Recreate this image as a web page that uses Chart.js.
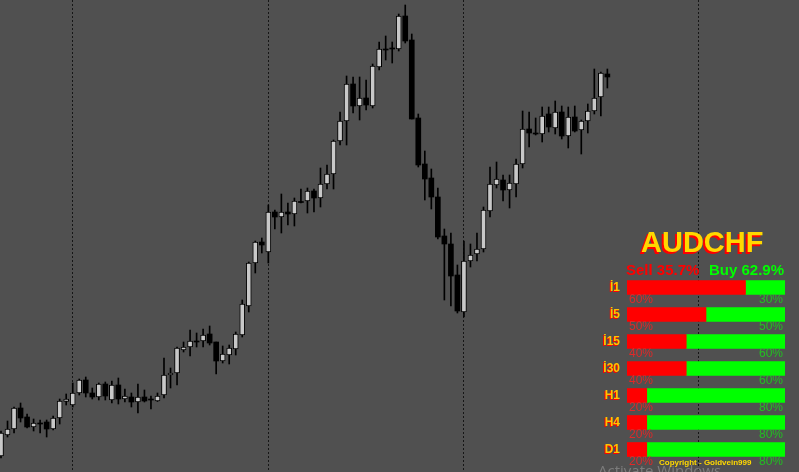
<!DOCTYPE html>
<html>
<head>
<meta charset="utf-8">
<script src="https://cdn.jsdelivr.net/npm/chart.js@4.4.1/dist/chart.umd.min.js"></script>
<style>
  html, body { margin:0; padding:0; background:#505050; }
  #wrap { position:relative; width:799px; height:472px; overflow:hidden; background:#505050; }
  #main { position:absolute; left:0; top:0; }
  #ind { position:absolute; left:627px; top:274px; z-index:2; }
  .t { position:absolute; white-space:nowrap; font-family:"Liberation Sans", Arial, sans-serif; z-index:3; }
  .title { font-size:29px; line-height:29px; font-weight:bold; color:#ffd800; text-shadow:-2px 2px 0 #ff0000; }
  .sell { font-size:15px; line-height:15px; font-weight:bold; color:#ff0000; }
  .buy { font-size:15px; line-height:15px; font-weight:bold; color:#00ff00; }
  .lab { font-size:12px; line-height:12px; font-weight:bold; color:#ffc400; text-shadow:-1px 1px 0 #ff0000; text-align:right; }
  .pl { font-size:12px; line-height:12px; color:#e02828; }
  .pr { font-size:12px; line-height:12px; color:#22c022; text-align:right; }
  .copy { font-size:8px; line-height:8px; font-weight:bold; color:#ffd800; }
  .wm { position:absolute; left:598px; top:460px; font-family:"Open Sans", sans-serif; font-size:15px; color:#7c7c7c; z-index:1; white-space:nowrap; }
</style>
</head>
<body>
<div id="wrap">
  <canvas id="main" width="799" height="472"></canvas>
  <canvas id="ind" width="158" height="189"></canvas>
  <div class="wm">Activate Windows</div>
</div>
<script>
// ---- candle data (price units) ----
const opens = [16,37,43,64,55,45,49,50,43,54,
  70.5,67,79,92,79,75,88,72,87,73,
  75,70,75,73,71,77,97,99,122,125,
  131,131,138,130,111,117,123,137,166,209,
  230,220,260,255,260,258,270.5,271,281,274,
  288,298,331,351,388,366,374,366,405,423,
  424,423,456,432,354,308,294,275,236,228,
  197,160,211,218,223,261,287,292,282,288,
  308,343,339,338,358,344,360,336,355,342,
  351,361,375,398];
const highs = [41,51,65,69,58,53,52,52,56,73,
  78,89,93,95,84,89,90,91,94,83,
  79,88,82,76,79,114,104,125,130,142,
  139,143,146,130,126,127,140,172,210,231,
  234,267,262,278,269,274,283,284,283,304,
  307,332,360,396,395,395,392,408,430,436,
  430,458,467,438,358,321,303,284,243,239,
  207,231,228,239,265,305,310,297,297,313,
  361,360,354,365,365,371,366,365,366,352,
  368,403,400,403];
const lows = [14,35,39,50,44,41,39,35,42,48,
  67,65,77,75,73,72,72,69,68,70,
  65,59,70,63,70.5,74,84,87,120,116,
  125,125,127,98,109,108,117,135,160,199,
  219,209,243,239,247,246,269,259,260,265,
  283,283,327,327,359,352,362,364,402,412,
  409,421,429,353,305,272,263,233,172,166,
  159,155,205,211,220,255,284,271,264,275,
  304,325,337,330,340,338,333,324,340,318,
  339,358,356,384];
const closes = [39,43,64,54,45,49,48,43,54,71,
  73,79,92,79,75,88,76,87,73,76,
  70,75,71,72,76,97,99,124,125,131,
  130,137,129,111,118,124,138,168,209,230,
  227,260,255,260,258,271,269.5,281,274,288,
  298,331,351,388,366,374,367,406,423,422,
  423,456,431,353,307,293,275,235,228,196,
  161,211,217,223,262,288,293,282,289,308,
  343,339,338,356,345,360,336,355,341,351,
  361,374,399,395];
const separators = [11, 41, 71, 107];

// ---- indicator panel data ----
const symbol = "AUDCHF";
const sellTotal = "35.7%";
const buyTotal = "62.9%";
const timeframes = ["İ1","İ5","İ15","İ30","H1","H4","D1"];
const sellPct = [60,50,40,40,20,20,20];
const buyPct = [30,50,60,60,80,80,80];
const sellBar = [75,50,37.5,37.5,12.5,12.5,12.5];
const buyBar = [25,50,62.5,62.5,87.5,87.5,87.5];

const BULL = '#c8c8c8', BEAR = '#000000';
const bodyData = opens.map((o, i) => ({ x: i, y: [o, closes[i]] }));
const wickData = lows.map((l, i) => ({ x: i, y: [l, highs[i]] }));
const isBull = i => closes[i] > opens[i];

new Chart(document.getElementById('main'), {
  type: 'bar',
  data: {
    datasets: [
      {
        data: bodyData,
        grouped: false,
        barThickness: 5,
        backgroundColor: ctx => isBull(ctx.dataIndex) ? BULL : BEAR,
        borderColor: '#000000',
        borderWidth: ctx => isBull(ctx.dataIndex) ? 1 : 0,
        borderSkipped: false
      },
      {
        data: wickData,
        grouped: false,
        barThickness: 1,
        backgroundColor: '#000000',
        borderWidth: 0
      }
    ]
  },
  options: {
    responsive: false,
    animation: false,
    layout: { padding: 0 },
    plugins: { legend: { display: false }, tooltip: { enabled: false } },
    scales: {
      x: {
        type: 'linear',
        min: -0.153,
        max: 122.39,
        offset: false,
        display: true,
        ticks: { display: false },
        grid: { color: '#161616', lineWidth: 1, drawTicks: false, offset: false },
        border: { display: false, dash: [2, 2] },
        afterBuildTicks: s => { s.ticks = separators.map(v => ({ value: v })); }
      },
      y: { type: 'linear', min: 0, max: 472, display: false }
    }
  }
});

new Chart(document.getElementById('ind'), {
  type: 'bar',
  data: {
    labels: timeframes,
    datasets: [
      { data: sellBar, backgroundColor: '#ff0000', barThickness: 14, borderWidth: 0 },
      { data: buyBar, backgroundColor: '#00ff00', barThickness: 14, borderWidth: 0 }
    ]
  },
  options: {
    indexAxis: 'y',
    responsive: false,
    animation: false,
    layout: { padding: 0 },
    plugins: { legend: { display: false }, tooltip: { enabled: false } },
    scales: {
      x: { stacked: true, min: 0, max: 100, display: false },
      y: { stacked: true, display: false }
    }
  }
});

// ---- panel texts ----
const wrap = document.getElementById('wrap');
function addText(cls, txt, left, top, width) {
  const d = document.createElement('div');
  d.className = 't ' + cls;
  d.textContent = txt;
  d.style.left = left + 'px';
  d.style.top = top + 'px';
  if (width) d.style.width = width + 'px';
  wrap.appendChild(d);
  return d;
}
addText('title', symbol, 641, 227.5);
addText('sell', 'Sell ' + sellTotal, 626, 261.5);
addText('buy', 'Buy ' + buyTotal, 709, 261.5);
timeframes.forEach((tf, i) => {
  addText('lab', tf, 560, 281 + 27 * i, 60);
  addText('pl', sellPct[i] + '%', 629, 293 + 27 * i);
  addText('pr', buyPct[i] + '%', 700, 293 + 27 * i, 83);
});
addText('copy', 'Copyright - Goldvein999', 659, 459);
</script>
</body>
</html>
